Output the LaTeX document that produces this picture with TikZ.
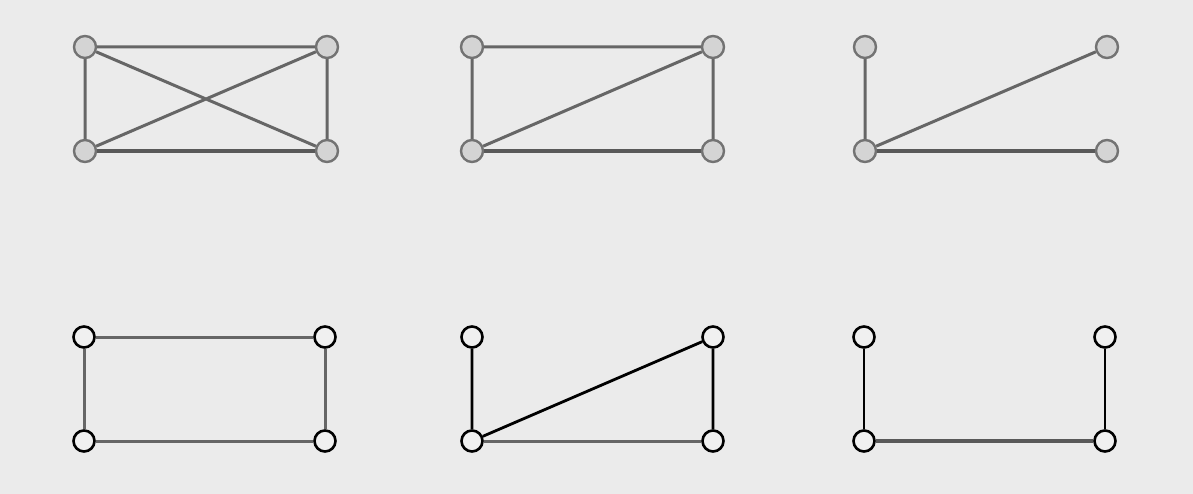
\documentclass[tikz,border=0pt]{standalone}
\begin{document}
\begin{tikzpicture}[x=1pt,y=-1pt,
  gnode/.style={circle,minimum size=22pt,inner sep=0pt,draw=black!55,fill=black!17,line width=2.4pt},
  wnode/.style={circle,minimum size=21pt,inner sep=0pt,draw=black,fill=black!6,line width=2.6pt},
  gedge/.style={draw=black!60,line width=3pt},
  thick gedge/.style={draw=black!65,line width=4pt},
  bedge/.style={draw=black,line width=2.8pt}]
\fill[black!8] (0,0) rectangle (1193,494);
\useasboundingbox (0,0) rectangle (1193,494);
% graph 1
\node[gnode] (a1) at (85,47) {};
\node[gnode] (a2) at (327,47) {};
\node[gnode] (a3) at (85,151) {};
\node[gnode] (a4) at (327,151) {};
\path[gedge] (a1) -- (a2) (a1) -- (a3) (a2) -- (a4) (a1) -- (a4) (a3) -- (a2);
\path[thick gedge] (a3) -- (a4);
% graph 2
\node[gnode] (b1) at (472,47) {};
\node[gnode] (b2) at (713,47) {};
\node[gnode] (b3) at (472,151) {};
\node[gnode] (b4) at (713,151) {};
\path[gedge] (b1) -- (b2) (b1) -- (b3) (b2) -- (b4) (b3) -- (b2);
\path[thick gedge] (b3) -- (b4);
% graph 3
\node[gnode] (c1) at (865,47) {};
\node[gnode] (c2) at (1107,47) {};
\node[gnode] (c3) at (865,151) {};
\node[gnode] (c4) at (1107,151) {};
\path[gedge] (c1) -- (c3) (c3) -- (c2);
\path[thick gedge] (c3) -- (c4);
% graph 4
\node[wnode] (d1) at (84,337) {};
\node[wnode] (d2) at (325,337) {};
\node[wnode] (d3) at (84,441) {};
\node[wnode] (d4) at (325,441) {};
\path[gedge] (d1) -- (d2) (d1) -- (d3) (d2) -- (d4) (d3) -- (d4);
% graph 5
\node[wnode] (e1) at (472,337) {};
\node[wnode] (e2) at (713,337) {};
\node[wnode] (e3) at (472,441) {};
\node[wnode] (e4) at (713,441) {};
\path[bedge] (e1) -- (e3) (e2) -- (e4) (e3) -- (e2);
\path[gedge] (e3) -- (e4);
% graph 6
\node[wnode] (f1) at (864,337) {};
\node[wnode] (f2) at (1105,337) {};
\node[wnode] (f3) at (864,441) {};
\node[wnode] (f4) at (1105,441) {};
\path[bedge] (f1) -- (f3) (f2) -- (f4);
\path[thick gedge] (f3) -- (f4);
\end{tikzpicture}
\end{document}
